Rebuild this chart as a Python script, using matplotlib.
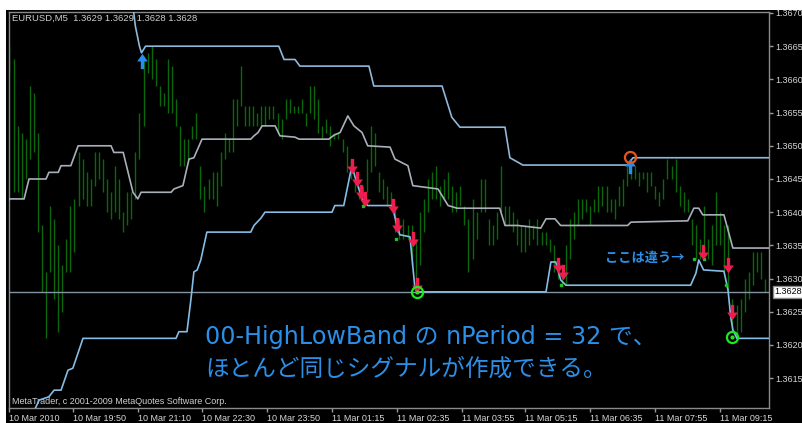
import numpy as np
import matplotlib
matplotlib.use('Agg')
import matplotlib.pyplot as plt
from matplotlib.path import Path
from matplotlib.patches import Rectangle

# EURUSD M5 bars (high / low)
high = [1.3665, 1.3663, 1.3653, 1.3652, 1.3651, 1.3659, 1.3658, 1.3652, 1.3638, 1.3631,
        1.3641, 1.3639, 1.3635, 1.3632, 1.3636, 1.3641, 1.3642, 1.3649, 1.3648, 1.3646,
        1.3645, 1.3649, 1.3649, 1.3648, 1.3645, 1.3643, 1.3647, 1.3645, 1.3640, 1.3643,
        1.3643, 1.3649, 1.3655, 1.3663, 1.3664, 1.3665, 1.3663, 1.3659, 1.3658, 1.3663,
        1.3662, 1.3657, 1.3653, 1.3651, 1.3651, 1.3653, 1.3655, 1.3647, 1.3644, 1.3645,
        1.3646, 1.3646, 1.3649, 1.3652, 1.3651, 1.3657, 1.3657, 1.3662, 1.3656, 1.3656,
        1.3656, 1.3655, 1.3656, 1.3656, 1.3656, 1.3656, 1.3655, 1.3654, 1.3657, 1.3657,
        1.3656, 1.3656, 1.3657, 1.3655, 1.3659, 1.3659, 1.3657, 1.3653, 1.3654, 1.3653,
        1.3652, 1.3652, 1.3651, 1.3650, 1.3648, 1.3645, 1.3644, 1.3644, 1.3648, 1.3653,
        1.3652, 1.3646, 1.3645, 1.3644, 1.3643, 1.3641, 1.3639, 1.3639, 1.3638, 1.3638,
        1.3636, 1.3640, 1.3642, 1.3645, 1.3646, 1.3647, 1.3644, 1.3645, 1.3646, 1.3644,
        1.3643, 1.3644, 1.3641, 1.3639, 1.3642, 1.3640, 1.3645, 1.3645, 1.3639, 1.3638,
        1.3640, 1.3647, 1.3641, 1.3641, 1.3640, 1.3639, 1.3638, 1.3638, 1.3639, 1.3638,
        1.3639, 1.3637, 1.3637, 1.3636, 1.3635, 1.3632, 1.3631, 1.3635, 1.3639, 1.3640,
        1.3642, 1.3642, 1.3642, 1.3641, 1.3642, 1.3644, 1.3644, 1.3644, 1.3642, 1.3642,
        1.3644, 1.3645, 1.3647, 1.3648, 1.3647, 1.3646, 1.3646, 1.3646, 1.3646, 1.3644,
        1.3643, 1.3645, 1.3648, 1.3647, 1.3648, 1.3644, 1.3643, 1.3642, 1.3639, 1.3638,
        1.3636, 1.3641, 1.3636, 1.3638, 1.3643, 1.3640, 1.3638, 1.3638, 1.3627, 1.3626,
        1.3627, 1.3630, 1.3631, 1.3634, 1.3634, 1.3634, 1.3630]
low = [1.3661, 1.3643, 1.3643, 1.3642, 1.3645, 1.3648, 1.3649, 1.3637, 1.3628, 1.3621,
       1.3631, 1.3627, 1.3622, 1.3625, 1.3631, 1.3631, 1.3634, 1.3641, 1.3642, 1.3641,
       1.3641, 1.3644, 1.3645, 1.3643, 1.3640, 1.3639, 1.3640, 1.3639, 1.3637, 1.3638,
       1.3639, 1.3642, 1.3648, 1.3653, 1.3661, 1.3660, 1.3659, 1.3656, 1.3656, 1.3655,
       1.3655, 1.3653, 1.3647, 1.3647, 1.3648, 1.3651, 1.3651, 1.3642, 1.3640, 1.3642,
       1.3642, 1.3641, 1.3644, 1.3648, 1.3649, 1.3649, 1.3653, 1.3656, 1.3653, 1.3653,
       1.3653, 1.3653, 1.3653, 1.3653, 1.3654, 1.3654, 1.3652, 1.3651, 1.3654, 1.3655,
       1.3655, 1.3655, 1.3655, 1.3653, 1.3655, 1.3654, 1.3652, 1.3651, 1.3652, 1.3650,
       1.3651, 1.3651, 1.3649, 1.3646, 1.3645, 1.3643, 1.3642, 1.3641, 1.3643, 1.3646,
       1.3647, 1.3643, 1.3642, 1.3641, 1.3641, 1.3637, 1.3636, 1.3636, 1.3636, 1.3632,
       1.3628, 1.3632, 1.3637, 1.3640, 1.3642, 1.3642, 1.3641, 1.3642, 1.3642, 1.3640,
       1.3640, 1.3641, 1.3638, 1.3631, 1.3633, 1.3636, 1.3640, 1.3640, 1.3635, 1.3635,
       1.3636, 1.3640, 1.3638, 1.3638, 1.3637, 1.3635, 1.3634, 1.3634, 1.3635, 1.3636,
       1.3635, 1.3635, 1.3635, 1.3634, 1.3631, 1.3630, 1.3629, 1.3629, 1.3633, 1.3636,
       1.3638, 1.3639, 1.3640, 1.3638, 1.3640, 1.3640, 1.3641, 1.3640, 1.3640, 1.3639,
       1.3641, 1.3641, 1.3644, 1.3645, 1.3645, 1.3644, 1.3645, 1.3643, 1.3644, 1.3642,
       1.3641, 1.3642, 1.3645, 1.3645, 1.3643, 1.3641, 1.3640, 1.3640, 1.3635, 1.3633,
       1.3633, 1.3635, 1.3633, 1.3632, 1.3635, 1.3635, 1.3631, 1.3628, 1.3622, 1.3621,
       1.3622, 1.3625, 1.3627, 1.3629, 1.3631, 1.3630, 1.3628]

# band lines (bar position, price)
upper_x = [30, 31, 32, 32.5, 33.5, 66.3, 67.6, 70.3, 71.5, 88.5, 89.7, 106.5, 108.9, 110.9,
           122, 123.2, 126.4, 152.2, 153.5, 187]
upper_y = [1.3673, 1.3668, 1.3665, 1.3664, 1.3665, 1.3665, 1.3663, 1.3663, 1.3662, 1.3662,
           1.3659, 1.3659, 1.36543, 1.36528, 1.36528, 1.36482, 1.36471, 1.36471, 1.36482, 1.36482]

mid_x = [-1, 0, 3.6, 4.8, 9, 9.7, 12, 12.7, 15.1, 16.9, 25, 25.7, 28, 30.4, 31.6, 32.4, 39.8,
         40.5, 42.7, 44.2, 45.4, 47.4, 59.4, 60.2, 61.2, 62.2, 65.4, 66.6, 70.3, 71.3, 78.6,
         79.9, 81.4, 83.3, 84.8, 86.8, 88.2, 93.7, 94.9, 98.1, 99.3, 105.5, 108, 110.2, 120.7,
         122, 125.2, 130.8, 132.1, 134.3, 135.7, 152.2, 153, 167, 168.5, 169.7, 170.7, 175.9,
         178.1, 187]
mid_y = [1.3641, 1.3642, 1.3642, 1.3645, 1.3645, 1.3646, 1.3646, 1.3647, 1.3647, 1.3650,
         1.3650, 1.3649, 1.3649, 1.3643, 1.3642, 1.3643, 1.3643, 1.36435, 1.3644, 1.3648,
         1.36482, 1.3651, 1.3651, 1.36515, 1.3652, 1.3653, 1.3653, 1.36515, 1.36513, 1.3651,
         1.3651, 1.36516, 1.3652, 1.36545, 1.3653, 1.3652, 1.3650, 1.36498, 1.3648, 1.3647,
         1.3644, 1.36435, 1.3641, 1.36406, 1.36406, 1.3638, 1.3638, 1.36376, 1.3639, 1.3639,
         1.3638, 1.3638, 1.36385, 1.36387, 1.36406, 1.36406, 1.36396, 1.36396, 1.36346, 1.36346]

lower_x = [6, 7.3, 9.7, 11, 12.7, 14.4, 15.6, 18.1, 41, 41.7, 43.7, 44.7, 45.4, 46.2, 47.1,
           48.6, 59.4, 60.2, 61.9, 62.9, 79.4, 80.1, 82.3, 84.3, 85.5, 87, 88.2, 94.2, 95.4,
           96.1, 98.6, 99.8, 100.3, 132.1, 133.3, 134.5, 135.7, 137, 167.7, 169, 169.7, 170.9,
           175.9, 176.9, 177.6, 178.1, 179.1, 187]
lower_y = [1.3610, 1.36117, 1.36122, 1.36132, 1.36132, 1.36162, 1.36165, 1.3621, 1.3621,
           1.3622, 1.3622, 1.3627, 1.3631, 1.36313, 1.36328, 1.3637, 1.3637, 1.3638, 1.36391,
           1.3640, 1.3640, 1.3641, 1.3641, 1.3647, 1.36444, 1.36418, 1.3641, 1.3641, 1.3638,
           1.36366, 1.36363, 1.36287, 1.3628, 1.3628, 1.36325, 1.36325, 1.36298, 1.3629,
           1.3629, 1.36308, 1.36328, 1.36313, 1.36311, 1.36283, 1.36241, 1.36223, 1.3621, 1.3621]

# signals
sell_x = [84.3, 85.5, 86.5, 87.5, 94.4, 95.4, 99.3, 100.3, 135, 136.3, 170.7, 176.9, 177.8]
sell_y = [1.3647, 1.3645, 1.3643, 1.3642, 1.3641, 1.3638, 1.3636, 1.3629, 1.3632, 1.3631,
          1.3634, 1.3632, 1.3625]
buy_x = [32.6, 152.7]
buy_y = [1.36628, 1.36470]
exit_sell_x = [100.3, 177.8]
exit_sell_y = [1.3628, 1.36212]
exit_buy_x = [152.7]
exit_buy_y = [1.36483]
dot_x = [87, 95.1, 135.7, 168.5, 171.0, 176.5]
dot_y = [1.3641, 1.3636, 1.3629, 1.3633, 1.3633, 1.3629]

bid = 1.3628
price_ticks = [1.3615, 1.3620, 1.3625, 1.3630, 1.3635, 1.3640, 1.3645, 1.3650,
               1.3655, 1.3660, 1.3665, 1.3670]
time_pos = [0, 15.6, 31.6, 47.4, 63.4, 79.4, 95.4, 111.4, 126.9, 142.9, 158.9, 174.9]
time_labels = ['10 Mar 2010', '10 Mar 19:50', '10 Mar 21:10', '10 Mar 22:30', '10 Mar 23:50',
               '11 Mar 01:15', '11 Mar 02:35', '11 Mar 03:55', '11 Mar 05:15', '11 Mar 06:35',
               '11 Mar 07:55', '11 Mar 09:15']

jp = ['Noto Sans CJK JP', 'DejaVu Sans']
jp_wide = ['DejaVu Sans', 'Noto Sans CJK JP']
plt.rcParams['font.family'] = ['Liberation Sans', 'DejaVu Sans']

fig = plt.figure(figsize=(8.02, 4.23), dpi=100, facecolor='white')
fig.patches.append(Rectangle((6 / 802, 0), 1, 413 / 423, transform=fig.transFigure,
                             facecolor='black', edgecolor='none', zorder=-10))
ax = fig.add_axes([9 / 802, 15 / 423, 760 / 802, 396 / 423], facecolor='black')
ax.set_zorder(1)

n = len(high)
bars = np.arange(n)
ax.vlines(bars, low, high, color='#0a680a', linewidth=1, zorder=2)

ax.axhline(bid, color='#8593a3', linewidth=1, zorder=3)
ax.plot(upper_x, upper_y, color='#8fb8da', linewidth=1.2, zorder=4)
ax.plot(mid_x, mid_y, color='#a9b0ba', linewidth=1.2, zorder=4)
ax.plot(lower_x, lower_y, color='#85bde6', linewidth=1.2, zorder=4)

# arrow marker shapes (MetaTrader style)
down_arrow = Path([(-0.22, 1), (0.22, 1), (0.22, 0.0), (0.7, 0.0), (0, -1),
                   (-0.7, 0.0), (-0.22, 0.0), (-0.22, 1)])
up_arrow = Path([(-0.22, -1), (0.22, -1), (0.22, 0.0), (0.7, 0.0), (0, 1),
                 (-0.7, 0.0), (-0.22, 0.0), (-0.22, -1)])
ax.plot(sell_x, sell_y, linestyle='none', marker=down_arrow, markersize=11,
        color='#ee1d4f', markeredgewidth=0, zorder=6)
ax.plot(buy_x, buy_y, linestyle='none', marker=up_arrow, markersize=11,
        color='#2a8cf0', markeredgewidth=0, zorder=6)
ax.plot(exit_sell_x, exit_sell_y, linestyle='none', marker='o', markersize=8,
        markerfacecolor='none', markeredgecolor='#1ee81e', markeredgewidth=1.6, zorder=6)
ax.plot(exit_sell_x, exit_sell_y, linestyle='none', marker='o', markersize=2,
        color='#1ee81e', zorder=6)
ax.plot(exit_buy_x, exit_buy_y, linestyle='none', marker='o', markersize=8,
        markerfacecolor='none', markeredgecolor='#e8561e', markeredgewidth=1.6, zorder=6)
ax.plot(dot_x, dot_y, linestyle='none', marker='s', markersize=1.6, color='#22c022', zorder=5)

ax.set_xlim(-0.12, 187)
ax.set_ylim(1.361051, 1.367015)

ax.yaxis.tick_right()
ax.set_yticks(price_ticks)
ax.set_yticklabels(['%.4f' % p for p in price_ticks])
ax.set_xticks(time_pos)
ax.set_xticklabels(time_labels, ha='left')
ax.tick_params(axis='both', colors='#9a9a9a', labelcolor='#d8d8d8', labelsize=6.5,
               length=3, width=1, pad=1.5)
for s in ax.spines.values():
    s.set_color('#8a8a8a')
    s.set_linewidth(1)

ax.annotate('%.4f' % bid, xy=(1, bid), xycoords=('axes fraction', 'data'),
            xytext=(4, 0), textcoords='offset points', va='center', ha='left',
            fontsize=6.5, color='black',
            bbox=dict(boxstyle='square,pad=0.15', facecolor='white', edgecolor='#888888'))

ax.text(0.004, 0.985, 'EURUSD,M5  1.3629 1.3629 1.3628 1.3628', transform=ax.transAxes,
        color='#d0d0d0', fontsize=6.8, va='center', ha='left')
ax.text(0.004, 0.016, 'MetaTrader, c 2001-2009 MetaQuotes Software Corp.', transform=ax.transAxes,
        color='#d0d0d0', fontsize=6.5, va='center', ha='left')

ax.text(0.258, 0.180, '00-HighLowBand の nPeriod = 32 で、', transform=ax.transAxes,
        color='#2b8fe8', fontsize=17.2, va='center', ha='left', family=jp_wide)
ax.text(0.258, 0.097, 'ほとんど同じシグナルが作成できる。', transform=ax.transAxes,
        color='#2b8fe8', fontsize=17, va='center', ha='left', family=jp)
ax.text(0.784, 0.379, 'ここは違う→', transform=ax.transAxes,
        color='#2b8fe8', fontsize=9.5, va='center', ha='left', family=jp, weight='bold')

fig.savefig('out.png', dpi=100, facecolor='white')
